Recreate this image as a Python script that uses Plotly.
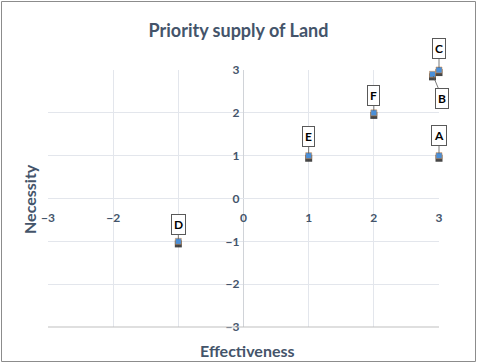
import plotly.graph_objects as go

labels = ["A", "B", "C", "D", "E", "F"]
effectiveness = [3, 2.9, 3, -1, 1, 2]
necessity = [1, 2.9, 3, -1, 1, 2]
label_ax = [0, 10, 0, 0, 0, 0]
label_ay = [-20, 24, -22, -17, -19, -17]
ticks = [-3, -2, -1, 0, 1, 2, 3]

slate = "#44546A"
grid = "#E3E6EC"

fig = go.Figure()
# shadow
fig.add_trace(go.Scatter(
    x=effectiveness, y=[v - 0.06 for v in necessity],
    mode="markers", marker=dict(symbol="square", size=7, color="rgba(25,25,25,0.8)"),
    hoverinfo="skip", showlegend=False, cliponaxis=False))
fig.add_trace(go.Scatter(
    x=effectiveness, y=necessity, mode="markers", cliponaxis=False,
    marker=dict(symbol="square", size=6, color="#4A8FD8", line=dict(width=0.5, color="#D9863A")),
    showlegend=False))

for lab, xv, yv, ax, ay in zip(labels, effectiveness, necessity, label_ax, label_ay):
    fig.add_annotation(x=xv, y=yv, text=lab, showarrow=True, arrowhead=0, arrowwidth=0.8,
                       arrowcolor="#595959", ax=ax, ay=ay, standoff=2,
                       bgcolor="white", bordercolor="#595959", borderwidth=1, borderpad=2,
                       font=dict(family="Lato", size=12, color="black", weight="bold"))

fig.add_annotation(text="Effectiveness", xref="paper", yref="paper", x=0.51, y=-0.045,
                   yanchor="top", showarrow=False,
                   font=dict(family="Lato", size=16, color=slate, weight="bold"))
fig.add_annotation(text="Necessity", xref="paper", yref="paper", x=-0.018, y=0.5,
                   textangle=-90, xanchor="right", showarrow=False,
                   font=dict(family="Lato", size=16, color=slate, weight="bold"))

# bottom axis line and outer border
fig.add_shape(type="line", xref="paper", yref="paper", x0=0, x1=1, y0=0, y1=0,
              line=dict(color="#BFBFBF", width=1))
fig.add_shape(type="rect", xref="paper", yref="paper",
              x0=(1.5 - 48) / 391, x1=(475.5 - 48) / 391,
              y0=(327 - 361.5) / 257, y1=(327 - 1.5) / 257,
              line=dict(color="#8C8C8C", width=1))

fig.update_layout(
    width=477, height=363,
    margin=dict(l=48, r=38, t=70, b=36),
    paper_bgcolor="white", plot_bgcolor="white",
    title=dict(text="<b>Priority supply of Land</b>", x=0.5, xanchor="center", y=0.915, yanchor="middle",
               font=dict(family="Lato", size=18, color=slate)),
    xaxis=dict(range=[-3, 3], tickvals=ticks, showgrid=True, gridcolor=grid, gridwidth=1,
               zeroline=True, zerolinecolor="#D0D3D8", zerolinewidth=1,
               anchor="free", position=0.5, showline=False, ticks="",
               ticklabelstandoff=10, automargin=False,
               tickfont=dict(family="Lato", size=12, color=slate, weight="bold")),
    yaxis=dict(range=[-3, 3], tickvals=ticks, showgrid=True, gridcolor=grid, gridwidth=1,
               zeroline=True, zerolinecolor=grid, zerolinewidth=1,
               anchor="free", position=0.5, showline=False, ticks="",
               ticklabelstandoff=4, automargin=False,
               tickfont=dict(family="Lato", size=12, color=slate, weight="bold")),
)

fig.write_html("out.html")
